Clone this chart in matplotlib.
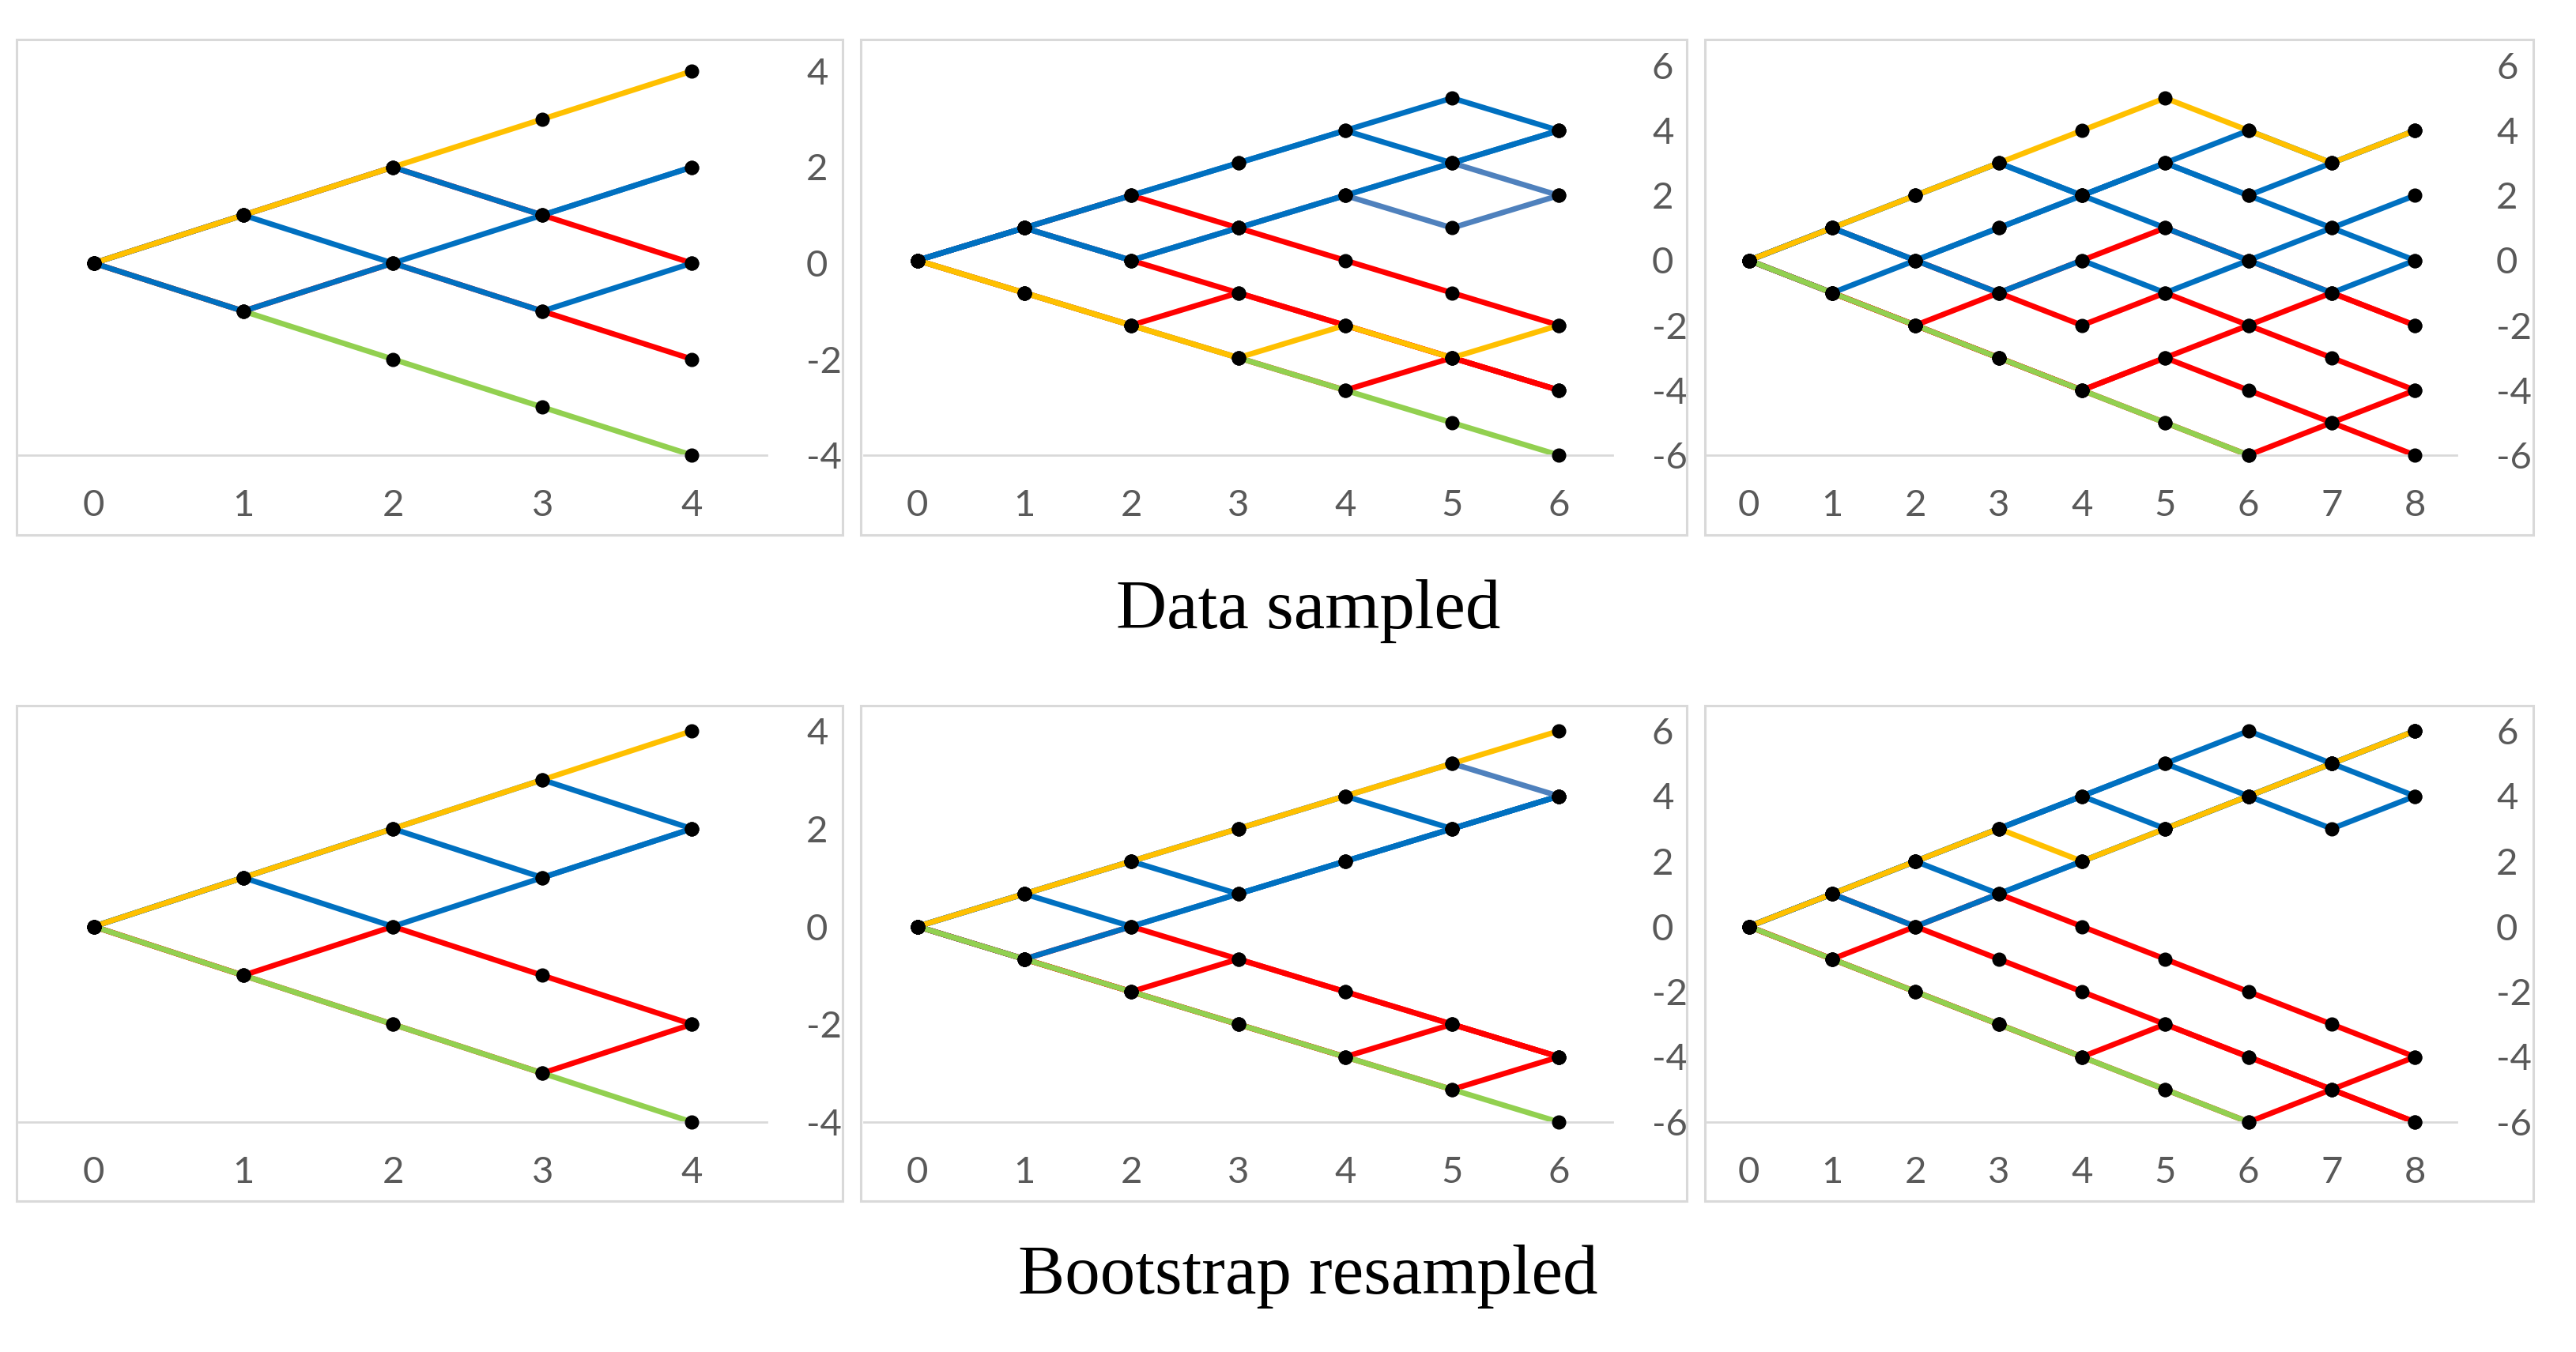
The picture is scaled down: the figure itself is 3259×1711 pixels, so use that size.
import numpy as np
import matplotlib.pyplot as plt
from matplotlib.patches import Rectangle

nan = np.nan

# x categories
steps_4 = [0, 1, 2, 3, 4]
steps_6 = [0, 1, 2, 3, 4, 5, 6]
steps_8 = [0, 1, 2, 3, 4, 5, 6, 7, 8]

ticks_4 = [-4, -2, 0, 2, 4]
ticks_6 = [-6, -4, -2, 0, 2, 4, 6]

# ---- Data sampled ----
sampled_4_paths = [
    [0, -1, -2, -3, -4],
    [0, 1, 2, 1, 0],
    [0, -1, 0, -1, -2],
    [0, 1, 2, 1, 2],
    [0, -1, 0, 1, 2],
    [0, 1, 0, -1, 0],
    [0, 1, 2, 3, 4],
]
sampled_4_groups = ["green", "red", "red", "blue", "blue", "blue", "yellow"]

sampled_6_paths = [
    [0, 1, 2, 1, 0, -1, -2],
    [0, 1, 0, -1, -2, -3, -4],
    [0, -1, -2, -1, -2, -3, -4],
    [0, -1, -2, -3, -4, -3, -4],
    [0, -1, -2, -3, -4, -5, -6],
    [0, 1, 0, 1, 2, 3, 2],
    [0, 1, 0, 1, 2, 1, 2],
    [0, 1, 2, 3, 4, 5, 4],
    [0, 1, 2, 3, 4, 3, 4],
    [0, 1, 0, 1, 2, 3, 4],
    [0, -1, -2, -3, -2, -3, -2],
]
sampled_6_groups = ["red", "red", "red", "red", "green", "steel", "steel",
                    "blue", "blue", "blue", "yellow"]

sampled_8_paths = [
    [0, -1, -2, -1, -2, -1, -2, -3, -4],
    [0, 1, 0, -1, 0, 1, 0, -1, -2],
    [0, -1, -2, -3, -4, -3, -2, -1, -2],
    [0, -1, -2, -3, -4, -3, -4, -5, -6],
    [0, -1, -2, -3, -4, -5, -6, -5, -4],
    [0, 1, 0, 1, 2, 3, 4, 3, 4],
    [0, 1, 2, 3, 2, 1, 0, 1, 2],
    [0, -1, 0, -1, 0, -1, 0, -1, 0],
    [0, 1, 0, 1, 2, 3, 2, 3, 4],
    [0, 1, 2, 3, 2, 3, 2, 1, 0],
    [0, -1, -2, -3, -4, -5, -6, nan, nan],
    [0, 1, 2, 3, 4, 5, 4, 3, 4],
]
sampled_8_groups = ["red", "red", "red", "red", "red",
                    "blue", "blue", "blue", "blue", "blue", "green", "yellow"]

# ---- Bootstrap resampled ----
boot_4_paths = [
    [0, -1, 0, -1, -2],
    [0, -1, -2, -3, -2],
    [0, -1, -2, -3, -4],
    [0, 1, 2, 3, 2],
    [0, 1, 2, 1, 2],
    [0, 1, 0, 1, 2],
    [0, 1, 2, 3, 4],
]
boot_4_groups = ["red", "red", "green", "blue", "blue", "blue", "yellow"]

boot_6_paths = [
    [0, -1, 0, -1, -2, -3, -4],
    [0, -1, -2, -1, -2, -3, -4],
    [0, -1, -2, -3, -4, -3, -4],
    [0, -1, -2, -3, -4, -5, -4],
    [0, 1, 2, 3, 4, 3, 4],
    [0, 1, 2, 1, 2, 3, 4],
    [0, 1, 0, 1, 2, 3, 4],
    [0, -1, 0, 1, 2, 3, 4],
    [0, 1, 2, 3, 4, 5, 4],
    [0, -1, -2, -3, -4, -5, -6],
    [0, 1, 2, 3, 4, 5, 6],
]
boot_6_groups = ["red", "red", "red", "red", "blue", "blue", "blue", "blue",
                 "steel", "green", "yellow"]

boot_8_paths = [
    [0, -1, 0, -1, -2, -3, -4, -5, -6],
    [0, 1, 0, 1, 0, -1, -2, -3, -4],
    [0, -1, -2, -3, -4, -3, -4, -5, -4],
    [0, -1, -2, -3, -4, -5, -6, -5, -6],
    [0, -1, -2, -3, -4, -5, -6, nan, nan],
    [0, 1, 2, 3, 4, 5, 6, 5, 4],
    [0, 1, 2, 3, 4, 3, 4, 5, 6],
    [0, 1, 2, 3, 4, 5, 4, 3, 4],
    [0, 1, 0, 1, 2, 3, 4, 5, 6],
    [0, 1, 2, 1, 2, 3, 4, 5, 6],
    [0, 1, 2, 3, 2, 3, 4, 5, 6],
]
boot_8_groups = ["red", "red", "red", "red", "green",
                 "blue", "blue", "blue", "blue", "blue", "yellow"]

row_titles = ["Data sampled", "Bootstrap resampled"]

# ---- styling ----
colors = {"blue": "#0070C0", "red": "#FF0000", "yellow": "#FFC000",
          "green": "#92D050", "steel": "#4F81BD"}
grey_text = "#595959"
grey_line = "#D9D9D9"

plt.rcParams["font.family"] = ["Lato", "DejaVu Sans"]
plt.rcParams["axes.unicode_minus"] = False

W, H = 3259, 1711
fig = plt.figure(figsize=(W / 100, H / 100), dpi=100)

def fig_rect(x0, x1, ytop, ybot):
    return [x0 / W, 1 - ybot / H, (x1 - x0) / W, (ybot - ytop) / H]

col_axes = [(24, 970), (1093, 2040), (2160, 3108)]
col_boxes = [(21, 1066), (1089, 2134), (2157, 3205)]
row_axes = [([90, 83, 83], 576), ([925, 925, 925], 1420)]
row_boxes = [(50, 677), (893, 1520)]
title_base = [795, 1637]

panels = [
    [(steps_4, ticks_4, sampled_4_paths, sampled_4_groups),
     (steps_6, ticks_6, sampled_6_paths, sampled_6_groups),
     (steps_8, ticks_6, sampled_8_paths, sampled_8_groups)],
    [(steps_4, ticks_4, boot_4_paths, boot_4_groups),
     (steps_6, ticks_6, boot_6_paths, boot_6_groups),
     (steps_8, ticks_6, boot_8_paths, boot_8_groups)],
]

for r, row in enumerate(panels):
    tops, ybot = row_axes[r]
    for c, (xs, yticks, paths, groups) in enumerate(row):
        bx0, bx1 = col_boxes[c]
        by0, by1 = row_boxes[r]
        fig.patches.append(Rectangle((bx0 / W, 1 - by1 / H), (bx1 - bx0) / W,
                                     (by1 - by0) / H, transform=fig.transFigure,
                                     fill=False, edgecolor=grey_line, linewidth=2.2))

        ax = fig.add_axes(fig_rect(col_axes[c][0], col_axes[c][1], tops[c], ybot))
        for path, g in zip(paths, groups):
            ax.plot(xs, path, color=colors[g], lw=5, solid_capstyle="round",
                    solid_joinstyle="round", clip_on=False, zorder=2)
        for path in paths:
            ax.plot(xs, path, "o", color="black", ms=12, clip_on=False, zorder=5)

        ax.set_xlim(-0.5, len(xs) - 0.5)
        ax.set_ylim(yticks[0], yticks[-1])
        ax.set_xticks(xs)
        ax.set_yticks(yticks)
        ax.yaxis.tick_right()
        ax.tick_params(axis="x", length=0, pad=31, labelsize=34, labelcolor=grey_text)
        ax.tick_params(axis="y", length=0, pad=36, labelsize=34, labelcolor=grey_text)
        for side in ["top", "left", "right"]:
            ax.spines[side].set_visible(False)
        ax.spines["bottom"].set_color(grey_line)
        ax.spines["bottom"].set_linewidth(2)
        ax.set_facecolor("none")

    fig.text(1655 / W, 1 - title_base[r] / H, row_titles[r], ha="center",
             va="baseline", fontsize=64, family="Liberation Serif", color="black")

fig.savefig("out.png", dpi=100)
